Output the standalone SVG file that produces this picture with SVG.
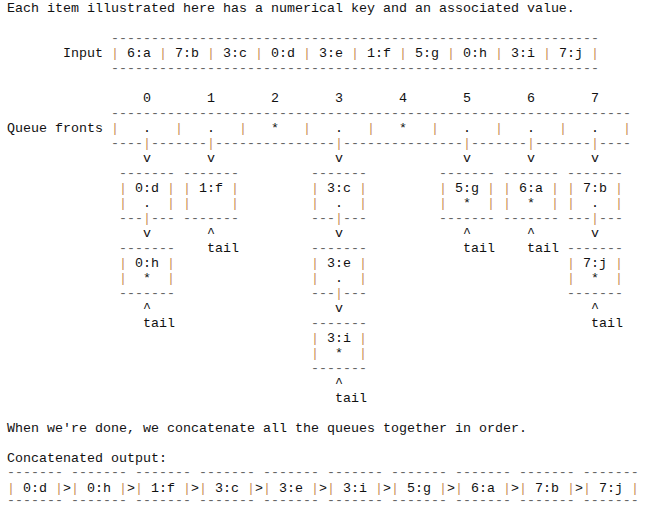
<svg xmlns="http://www.w3.org/2000/svg" width="645" height="509" viewBox="0 0 645 509" xml:space="preserve">
<style>
text{font-family:"Liberation Mono","DejaVu Sans Mono",monospace;font-size:13.333px;fill:#111;white-space:pre}
.d{fill:#666}
.p{fill:#c98f5a}
</style>
<rect width="645" height="509" fill="#fff"/>
<g id="captions">
<text x="7" y="12">Each item illustrated here has a numerical key and an associated value.</text>
<text x="7" y="432">When we're done, we concatenate all the queues together in order.</text>
<text x="7" y="462">Concatenated output:</text>
</g>
<g id="input">
<text x="63" y="57">Input</text>
<text x="111" y="42" class="d">-------------------------------------------------------------</text>
<text x="111" y="57"><tspan class="p">|</tspan> 6:a <tspan class="p">|</tspan> 7:b <tspan class="p">|</tspan> 3:c <tspan class="p">|</tspan> 0:d <tspan class="p">|</tspan> 3:e <tspan class="p">|</tspan> 1:f <tspan class="p">|</tspan> 5:g <tspan class="p">|</tspan> 0:h <tspan class="p">|</tspan> 3:i <tspan class="p">|</tspan> 7:j <tspan class="p">|</tspan></text>
<text x="111" y="72" class="d">-------------------------------------------------------------</text>
</g>
<g id="queue-fronts">
<text x="143" y="102">0</text><text x="207" y="102">1</text><text x="271" y="102">2</text><text x="335" y="102">3</text><text x="399" y="102">4</text><text x="463" y="102">5</text><text x="527" y="102">6</text><text x="591" y="102">7</text>
<text x="7" y="132">Queue fronts</text>
<text x="111" y="117" class="d">-----------------------------------------------------------------</text>
<text x="111" y="132"><tspan class="p">|</tspan>   .   <tspan class="p">|</tspan>   .   <tspan class="p">|</tspan>   *   <tspan class="p">|</tspan>   .   <tspan class="p">|</tspan>   *   <tspan class="p">|</tspan>   .   <tspan class="p">|</tspan>   .   <tspan class="p">|</tspan>   .   <tspan class="p">|</tspan></text>
<text x="111" y="147" class="d">----<tspan class="p">|</tspan>-------<tspan class="p">|</tspan>---------------<tspan class="p">|</tspan>---------------<tspan class="p">|</tspan>-------<tspan class="p">|</tspan>-------<tspan class="p">|</tspan>----</text>
</g>
<g id="node-0d">
<text x="119" y="177" class="d">-------</text>
<text x="119" y="192"><tspan class="p">|</tspan> 0:d <tspan class="p">|</tspan></text>
<text x="119" y="207"><tspan class="p">|</tspan>  .  <tspan class="p">|</tspan></text>
<text x="119" y="222" class="d">---<tspan class="p">|</tspan>---</text>
</g>
<g id="node-0h">
<text x="119" y="252" class="d">-------</text>
<text x="119" y="267"><tspan class="p">|</tspan> 0:h <tspan class="p">|</tspan></text>
<text x="119" y="282"><tspan class="p">|</tspan>  *  <tspan class="p">|</tspan></text>
<text x="119" y="297" class="d">-------</text>
</g>
<g id="node-1f">
<text x="183" y="177" class="d">-------</text>
<text x="183" y="192"><tspan class="p">|</tspan> 1:f <tspan class="p">|</tspan></text>
<text x="183" y="207"><tspan class="p">|</tspan>     <tspan class="p">|</tspan></text>
<text x="183" y="222" class="d">-------</text>
</g>
<g id="node-3c">
<text x="311" y="177" class="d">-------</text>
<text x="311" y="192"><tspan class="p">|</tspan> 3:c <tspan class="p">|</tspan></text>
<text x="311" y="207"><tspan class="p">|</tspan>  .  <tspan class="p">|</tspan></text>
<text x="311" y="222" class="d">---<tspan class="p">|</tspan>---</text>
</g>
<g id="node-3e">
<text x="311" y="252" class="d">-------</text>
<text x="311" y="267"><tspan class="p">|</tspan> 3:e <tspan class="p">|</tspan></text>
<text x="311" y="282"><tspan class="p">|</tspan>  .  <tspan class="p">|</tspan></text>
<text x="311" y="297" class="d">---<tspan class="p">|</tspan>---</text>
</g>
<g id="node-3i">
<text x="311" y="327" class="d">-------</text>
<text x="311" y="342"><tspan class="p">|</tspan> 3:i <tspan class="p">|</tspan></text>
<text x="311" y="357"><tspan class="p">|</tspan>  *  <tspan class="p">|</tspan></text>
<text x="311" y="372" class="d">-------</text>
</g>
<g id="node-5g">
<text x="439" y="177" class="d">-------</text>
<text x="439" y="192"><tspan class="p">|</tspan> 5:g <tspan class="p">|</tspan></text>
<text x="439" y="207"><tspan class="p">|</tspan>  *  <tspan class="p">|</tspan></text>
<text x="439" y="222" class="d">-------</text>
</g>
<g id="node-6a">
<text x="503" y="177" class="d">-------</text>
<text x="503" y="192"><tspan class="p">|</tspan> 6:a <tspan class="p">|</tspan></text>
<text x="503" y="207"><tspan class="p">|</tspan>  *  <tspan class="p">|</tspan></text>
<text x="503" y="222" class="d">-------</text>
</g>
<g id="node-7b">
<text x="567" y="177" class="d">-------</text>
<text x="567" y="192"><tspan class="p">|</tspan> 7:b <tspan class="p">|</tspan></text>
<text x="567" y="207"><tspan class="p">|</tspan>  .  <tspan class="p">|</tspan></text>
<text x="567" y="222" class="d">---<tspan class="p">|</tspan>---</text>
</g>
<g id="node-7j">
<text x="567" y="252" class="d">-------</text>
<text x="567" y="267"><tspan class="p">|</tspan> 7:j <tspan class="p">|</tspan></text>
<text x="567" y="282"><tspan class="p">|</tspan>  *  <tspan class="p">|</tspan></text>
<text x="567" y="297" class="d">-------</text>
</g>
<g id="connectors">
<text x="143" y="162">v</text><text x="207" y="162">v</text><text x="335" y="162">v</text><text x="463" y="162">v</text><text x="527" y="162">v</text><text x="591" y="162">v</text>
<text x="143" y="237">v</text><text x="207" y="237">^</text><text x="335" y="237">v</text><text x="463" y="237">^</text><text x="527" y="237">^</text><text x="591" y="237">v</text>
<text x="207" y="252">tail</text><text x="463" y="252">tail</text><text x="527" y="252">tail</text>
<text x="143" y="312">^</text><text x="335" y="312">v</text><text x="591" y="312">^</text>
<text x="143" y="327">tail</text><text x="591" y="327">tail</text>
<text x="335" y="387">^</text>
<text x="335" y="402">tail</text>
</g>
<g id="output">
<text x="7" y="476" class="d">------- ------- ------- ------- ------- ------- ------- ------- ------- -------</text>
<text x="7" y="492"><tspan class="p">|</tspan> 0:d <tspan class="p">|</tspan>&gt;<tspan class="p">|</tspan> 0:h <tspan class="p">|</tspan>&gt;<tspan class="p">|</tspan> 1:f <tspan class="p">|</tspan>&gt;<tspan class="p">|</tspan> 3:c <tspan class="p">|</tspan>&gt;<tspan class="p">|</tspan> 3:e <tspan class="p">|</tspan>&gt;<tspan class="p">|</tspan> 3:i <tspan class="p">|</tspan>&gt;<tspan class="p">|</tspan> 5:g <tspan class="p">|</tspan>&gt;<tspan class="p">|</tspan> 6:a <tspan class="p">|</tspan>&gt;<tspan class="p">|</tspan> 7:b <tspan class="p">|</tspan>&gt;<tspan class="p">|</tspan> 7:j <tspan class="p">|</tspan></text>
<text x="7" y="504" class="d">------- ------- ------- ------- ------- ------- ------- ------- ------- -------</text>
</g>
</svg>
